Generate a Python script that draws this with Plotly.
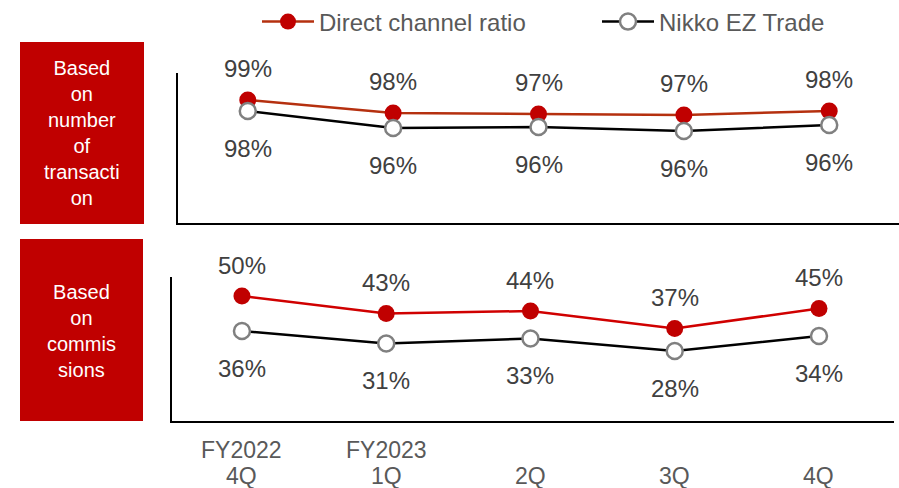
import plotly.graph_objects as go

# ---- data ----
categories = ["FY2022 4Q", "FY2023 1Q", "2Q", "3Q", "4Q"]
tick_line1 = ["FY2022", "FY2023", "", "", ""]
tick_line2 = ["4Q", "1Q", "2Q", "3Q", "4Q"]
series_names = ["Direct channel ratio", "Nikko EZ Trade"]
panel_titles = ["Based<br>on<br>number<br>of<br>transacti<br>on", "Based<br>on<br>commis<br>sions"]
# Based on number of transactions (%)
tx_direct = [98.85, 97.55, 97.45, 97.35, 97.75]
tx_ez = [97.75, 96.05, 96.15, 95.75, 96.35]
# Based on commissions (%)
cm_direct = [50, 43, 44, 37, 45]
cm_ez = [36, 31, 33, 28, 34]

W, H = 899, 488
RED = "#C00000"
RED_LINE_TOP = "#B5300F"
GREY_TXT = "#595959"
LBL_TXT = "#404040"
FONT = "Liberation Sans, Arial, sans-serif"

def px(x):
    return x / W

def py(y):
    return 1 - y / H

fig = go.Figure()

# top panel traces
fig.add_trace(go.Scatter(
    x=categories, y=tx_direct, name=series_names[0], mode="lines+markers",
    line=dict(color=RED_LINE_TOP, width=2.5),
    marker=dict(color=RED, size=17, line=dict(width=0)),
    xaxis="x", yaxis="y", legendrank=1))
fig.add_trace(go.Scatter(
    x=categories, y=tx_ez, name=series_names[1], mode="lines+markers",
    line=dict(color="#000000", width=2.5),
    marker=dict(color="#FFFFFF", size=16, line=dict(color="#808080", width=2.5)),
    xaxis="x", yaxis="y", legendrank=2))
# bottom panel traces
fig.add_trace(go.Scatter(
    x=categories, y=cm_direct, name=series_names[0], mode="lines+markers",
    line=dict(color="#D00000", width=2.5),
    marker=dict(color=RED, size=17, line=dict(width=0)),
    xaxis="x2", yaxis="y2", showlegend=False))
fig.add_trace(go.Scatter(
    x=categories, y=cm_ez, name=series_names[1], mode="lines+markers",
    line=dict(color="#000000", width=2.5),
    marker=dict(color="#FFFFFF", size=16, line=dict(color="#808080", width=2.5)),
    xaxis="x2", yaxis="y2", showlegend=False))

annotations = []
def add_labels(vals, xref, yref, shift):
    for c, v in zip(categories, vals):
        annotations.append(dict(
            x=c, y=v, xref=xref, yref=yref, text=f"{round(v):d}%",
            showarrow=False, yshift=shift, yanchor="middle",
            font=dict(size=24, color=LBL_TXT, family=FONT)))

add_labels(tx_direct, "x", "y", 32)
add_labels(tx_ez, "x", "y", -37)
add_labels(cm_direct, "x2", "y2", 31)
add_labels(cm_ez, "x2", "y2", -37)

# category labels under the bottom axis (two rows)
for c, t1, t2 in zip(categories, tick_line1, tick_line2):
    if t1:
        annotations.append(dict(x=c, y=py(450), xref="x2", yref="paper", text=t1,
                                showarrow=False, xanchor="center", yanchor="middle",
                                font=dict(size=23, color=GREY_TXT, family=FONT)))
    annotations.append(dict(x=c, y=py(476), xref="x2", yref="paper", text=t2,
                            showarrow=False, xanchor="center", yanchor="middle",
                            font=dict(size=23, color=GREY_TXT, family=FONT)))

# red boxes
shapes = [
    dict(type="rect", xref="paper", yref="paper", x0=px(20), x1=px(144), y0=py(224), y1=py(42),
         fillcolor=RED, line=dict(width=0), layer="below"),
    dict(type="rect", xref="paper", yref="paper", x0=px(20), x1=px(143), y0=py(421), y1=py(239),
         fillcolor=RED, line=dict(width=0), layer="below"),
]
annotations.append(dict(x=px(82), y=py(133), xref="paper", yref="paper", text=panel_titles[0],
                        showarrow=False, xanchor="center", yanchor="middle",
                        font=dict(size=20, color="#FFFFFF", family=FONT)))
annotations.append(dict(x=px(81.5), y=py(331), xref="paper", yref="paper", text=panel_titles[1],
                        showarrow=False, xanchor="center", yanchor="middle",
                        font=dict(size=20, color="#FFFFFF", family=FONT)))

fig.update_layout(
    width=W, height=H,
    margin=dict(l=0, r=0, t=0, b=0, autoexpand=False),
    paper_bgcolor="#FFFFFF", plot_bgcolor="#FFFFFF",
    font=dict(family=FONT, color=GREY_TXT),
    showlegend=True,
    legend=dict(orientation="h", x=px(257), y=py(22), xanchor="left", yanchor="middle",
                font=dict(size=24, color=GREY_TXT, family=FONT),
                itemwidth=52, entrywidth=273, bgcolor="rgba(0,0,0,0)"),
    xaxis=dict(domain=[px(178), 1.0], anchor="y", type="category",
               range=[-0.48, 4.48], showline=True, linecolor="#000000", linewidth=1.5,
               showgrid=False, zeroline=False, showticklabels=False, ticks=""),
    yaxis=dict(domain=[py(223), py(73)], anchor="x", range=[86.55, 101.55],
               showline=True, linecolor="#000000", linewidth=1.5,
               showgrid=False, zeroline=False, showticklabels=False, ticks=""),
    xaxis2=dict(domain=[px(172), px(894)], anchor="y2", type="category",
                range=[-0.485, 4.52], showline=True, linecolor="#000000", linewidth=1.5,
                showgrid=False, zeroline=False, ticks="", showticklabels=False),
    yaxis2=dict(domain=[py(421), py(277)], anchor="x2", range=[0, 57.6],
                showline=True, linecolor="#000000", linewidth=1.5,
                showgrid=False, zeroline=False, showticklabels=False, ticks=""),
    shapes=shapes,
    annotations=annotations,
)

fig.write_html("out.html")
